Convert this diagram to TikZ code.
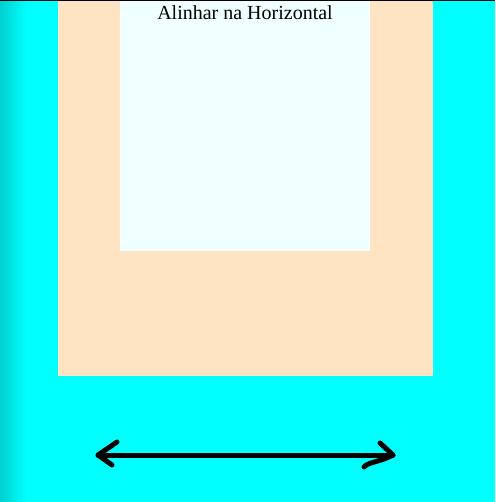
\documentclass[tikz,border=0pt]{standalone}
\usepackage{fontspec}
\setmainfont{Liberation Serif}
\definecolor{fundo}{HTML}{00FFFF}
\definecolor{sombra}{HTML}{00D0D0}
\definecolor{caixa}{HTML}{FFE4C4}
\definecolor{miolo}{HTML}{F0FFFF}

\begin{document}
\begin{tikzpicture}[
    x=1pt, y=-1pt,
    seta/.style={line width=5pt, line cap=round, line join=round},
    rotulo/.style={font=\fontsize{20}{22}\selectfont, anchor=north}
]
\useasboundingbox (0,0) rectangle (495,502);
% fundo com sombra a esquerda
\fill[fundo] (0,0) rectangle (495,502);
\shade[left color=sombra, right color=fundo] (0,0) rectangle (26,502);
\draw[black, line width=1.5pt] (0,0.75) -- (495,0.75);
% caixas
\fill[caixa] (58,1.5) rectangle (433,376);
\fill[miolo] (120,1.5) rectangle (370,251);
\node[rotulo, inner sep=0pt] (titulo) at (245,5) {Alinhar na Horizontal};
% seta dupla
\coordinate (esq) at (98,455);
\coordinate (dir) at (393,455);
\draw[seta] (esq) -- (dir);
\draw[seta] (117,442) -- (esq) -- (112,465);
\draw[seta] (380,443) -- (dir) .. controls (380,462) and (368,462) .. (364,467);
\end{tikzpicture}
\end{document}
